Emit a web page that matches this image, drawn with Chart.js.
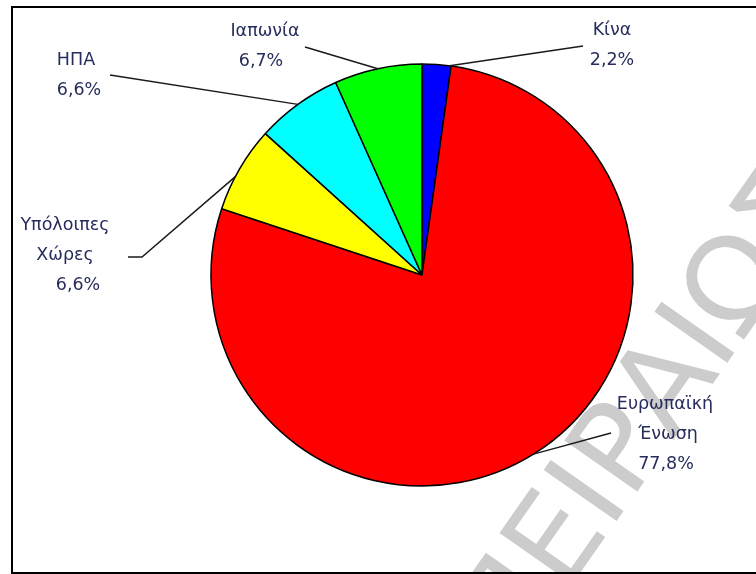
<!DOCTYPE html>
<html>
<head>
<meta charset="utf-8">
<script src="https://cdn.jsdelivr.net/npm/chart.js@4.4.1/dist/chart.umd.min.js"></script>
<style>
  html, body { margin: 0; padding: 0; background: #fff; }
  canvas { display: block; }
</style>
</head>
<body>
<canvas id="exportsChart" width="756" height="574"></canvas>
<script>
const countries = ["Κίνα", "Ευρωπαϊκή Ένωση", "Υπόλοιπες Χώρες", "ΗΠΑ", "Ιαπωνία"];
const shares = [2.2, 77.8, 6.6, 6.6, 6.7];
const sliceColors = ["#0000ff", "#ff0000", "#ffff00", "#00ffff", "#00ff00"];

// label line centres and leader line end points
const labelX = [[612, 612], [665, 668, 666], [65, 65, 78], [76, 79], [265, 261]];
const labelY = [30, 404, 225, 60, 31];
const leaderEnd = [[583, 46], [611, 433], [128, 257], [110, 75], [305, 47]];
const leaderElbow = [null, null, [142, 257], null, null];
const leaderAt = [0.95, 0.5, 0.4, 0.5, 0.5];

const toPercent = (v) => v.toFixed(1).replace(".", ",") + "%";

const pageDecor = {
  id: "pageDecor",
  beforeDraw(chart) {
    const ctx = chart.ctx;
    ctx.save();
    ctx.fillStyle = "#fff";
    ctx.fillRect(0, 0, chart.width, chart.height);
    // grey watermark behind the pie
    ctx.translate(513, 669);
    ctx.rotate((-55 * Math.PI) / 180);
    ctx.font = "122px 'DejaVu Sans'";
    ctx.fillStyle = "#cccccc";
    ctx.fillText("ΠΕΙΡΑΙΩΣ", 0, 0);
    ctx.restore();
    // frame, the right side runs off the page
    ctx.save();
    ctx.strokeStyle = "#000";
    ctx.lineWidth = 2;
    ctx.strokeRect(12, 7, 800, 566);
    ctx.restore();
  },
  afterDatasetsDraw(chart) {
    const ctx = chart.ctx;
    const arcs = chart.getDatasetMeta(0).data;
    ctx.save();
    ctx.strokeStyle = "#1a1a1a";
    ctx.lineWidth = 1.5;
    arcs.forEach((arc, i) => {
      const p = arc.getProps(["x", "y", "startAngle", "endAngle", "outerRadius"], true);
      const a = p.startAngle + leaderAt[i] * (p.endAngle - p.startAngle);
      ctx.beginPath();
      ctx.moveTo(leaderEnd[i][0], leaderEnd[i][1]);
      if (leaderElbow[i]) ctx.lineTo(leaderElbow[i][0], leaderElbow[i][1]);
      ctx.lineTo(p.x + Math.cos(a) * p.outerRadius, p.y + Math.sin(a) * p.outerRadius);
      ctx.stroke();
    });

    ctx.fillStyle = "#262d5c";
    ctx.font = "17.5px 'DejaVu Sans'";
    ctx.textAlign = "center";
    ctx.textBaseline = "middle";
    countries.forEach((name, i) => {
      const lines = name.split(" ").concat(toPercent(shares[i]));
      lines.forEach((text, k) => {
        ctx.fillText(text, labelX[i][k], labelY[i] + k * 30);
      });
    });
    ctx.restore();
  },
};

new Chart(document.getElementById("exportsChart"), {
  type: "pie",
  data: {
    labels: countries,
    datasets: [
      {
        data: shares,
        backgroundColor: sliceColors,
        borderColor: "#000",
        borderWidth: 1.5,
      },
    ],
  },
  options: {
    responsive: false,
    animation: false,
    radius: 211,
    layout: {
      padding: { left: 207, right: 119, top: 60, bottom: 84 },
    },
    plugins: {
      legend: { display: false },
      tooltip: { enabled: false },
    },
  },
  plugins: [pageDecor],
});
</script>
</body>
</html>
